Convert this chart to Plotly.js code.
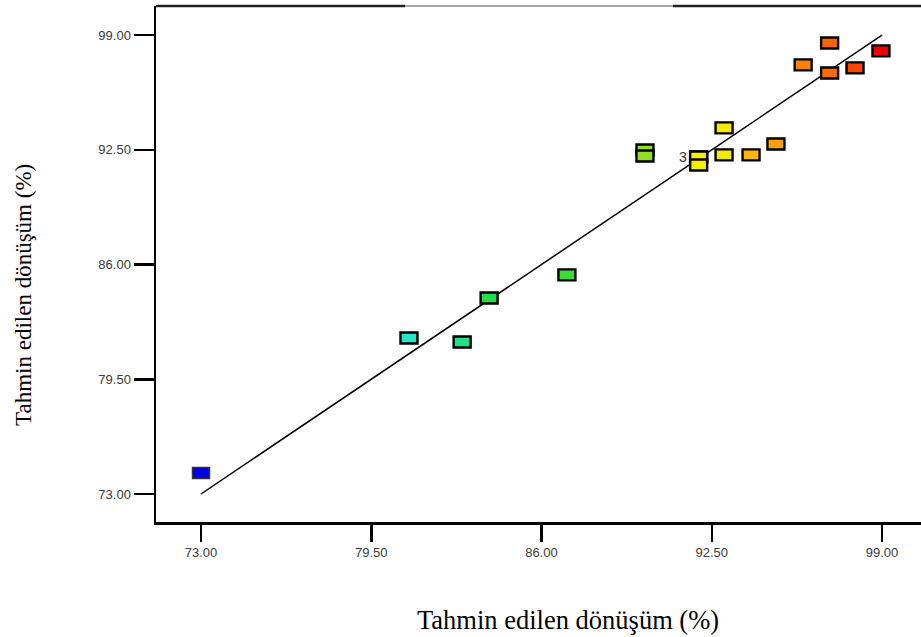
<!DOCTYPE html>
<html>
<head>
<meta charset="utf-8">
<script src="https://cdn.plot.ly/plotly-3.0.1.min.js"></script>
<style>
html,body{margin:0;padding:0;background:#fff;overflow:hidden;}
#chart{width:921px;height:637px;}
</style>
</head>
<body>
<div id="chart"></div>
<script>
// Data: actual (x) vs predicted (y) conversion (%)
const actual =    [73.0, 80.94, 82.97, 84.0, 86.97, 89.95, 89.95, 92.0, 92.0, 92.0, 92.97, 92.97, 94.0, 94.95, 95.99, 97.0, 97.0, 97.97, 98.96];
const predicted = [74.19, 81.84, 81.61, 84.10, 85.41, 92.49, 92.15, 92.09, 92.09, 91.64, 93.74, 92.21, 92.21, 92.83, 97.31, 98.55, 96.85, 97.14, 98.10];
const pointColors = ['#0000e6', '#22e6c4', '#22e08a', '#22dc48', '#38de30', '#8ee024', '#8ee024', '#f2f000', '#f2f000', '#f2f000', '#f2ea00', '#f2ea00', '#ffb400', '#ffa000', '#ff8200', '#ff6400', '#ff6c00', '#ff4600', '#ee0000'];
const tickVals = [73.00, 79.50, 86.00, 92.50, 99.00];
const tickText = ['73.00', '79.50', '86.00', '92.50', '99.00'];
const fitX = [73, 99];
const fitY = [73, 99];
const xTitle = 'Tahmin edilen dönüşüm (%)';
const yTitle = 'Tahmin edilen dönüşüm (%)';
const coincidentLabel = '3';

const traces = [
  {x: fitX, y: fitY, mode: 'lines', line: {color: '#000', width: 1.5}, hoverinfo: 'skip', showlegend: false},
  {x: actual, y: predicted, mode: 'markers', marker: {size: 12, opacity: 0}, showlegend: false}
];

const shapes = [];
// top border (dark ends, lighter middle)
shapes.push({type: 'line', xref: 'paper', yref: 'paper', x0: 0, x1: (405-156)/765, y0: 1, y1: 1, line: {color: '#222', width: 2.5}});
shapes.push({type: 'line', xref: 'paper', yref: 'paper', x0: (405-156)/765, x1: (673-156)/765, y0: 1, y1: 1, line: {color: '#8a8a8a', width: 1.5}});
shapes.push({type: 'line', xref: 'paper', yref: 'paper', x0: (673-156)/765, x1: 1, y0: 1, y1: 1, line: {color: '#222', width: 2.5}});
// rectangular markers
for (let i = 0; i < actual.length; i++) {
  shapes.push({
    type: 'rect', xref: 'x', yref: 'y', layer: 'above',
    xsizemode: 'pixel', ysizemode: 'pixel',
    xanchor: actual[i], yanchor: predicted[i],
    x0: -8.5, x1: 8.5, y0: -5.5, y1: 5.5,
    fillcolor: pointColors[i],
    line: {color: i === 0 ? '#333' : '#000', width: i === 0 ? 1.5 : 2.4}
  });
}

const layout = {
  width: 921, height: 637,
  margin: {l: 156, r: 0, t: 6, b: 115},
  paper_bgcolor: '#fff', plot_bgcolor: '#fff',
  showlegend: false,
  xaxis: {
    range: [71.282, 100.489], tickmode: 'array', tickvals: tickVals, ticktext: tickText,
    showgrid: false, zeroline: false, showline: true, linecolor: '#000', linewidth: 2.5,
    ticks: 'outside', ticklen: 17, tickwidth: 2.5, tickcolor: '#000',
    tickfont: {family: 'Liberation Sans, Arial, sans-serif', size: 13, color: '#3a3a3a'}
  },
  yaxis: {
    range: [71.414, 100.643], tickmode: 'array', tickvals: tickVals, ticktext: tickText,
    showgrid: false, zeroline: false, showline: true, linecolor: '#000', linewidth: 2.5,
    ticks: 'outside', ticklen: 20, tickwidth: 2.5, tickcolor: '#000',
    tickfont: {family: 'Liberation Sans, Arial, sans-serif', size: 13, color: '#3a3a3a'}
  },
  shapes: shapes,
  annotations: [
    {xref: 'paper', yref: 'paper', x: (568-156)/765, y: -(620-522)/516, xanchor: 'center', yanchor: 'middle',
     text: xTitle, showarrow: false, font: {family: 'Liberation Serif, Times New Roman, serif', size: 26.5, color: '#000'}},
    {xref: 'paper', yref: 'paper', x: -(156-23)/765, y: (522-295)/516, xanchor: 'center', yanchor: 'middle', textangle: -90,
     text: yTitle, showarrow: false, font: {family: 'Liberation Serif, Times New Roman, serif', size: 23, color: '#000'}},
    {xref: 'x', yref: 'y', x: actual[7], y: predicted[7], xanchor: 'right', yanchor: 'middle', xshift: -10, yshift: 0,
     text: coincidentLabel, showarrow: false, font: {family: 'Liberation Sans, Arial, sans-serif', size: 14, color: '#333'}}
  ]
};

Plotly.newPlot('chart', traces, layout, {displayModeBar: false, staticPlot: true});
</script>
</body>
</html>
